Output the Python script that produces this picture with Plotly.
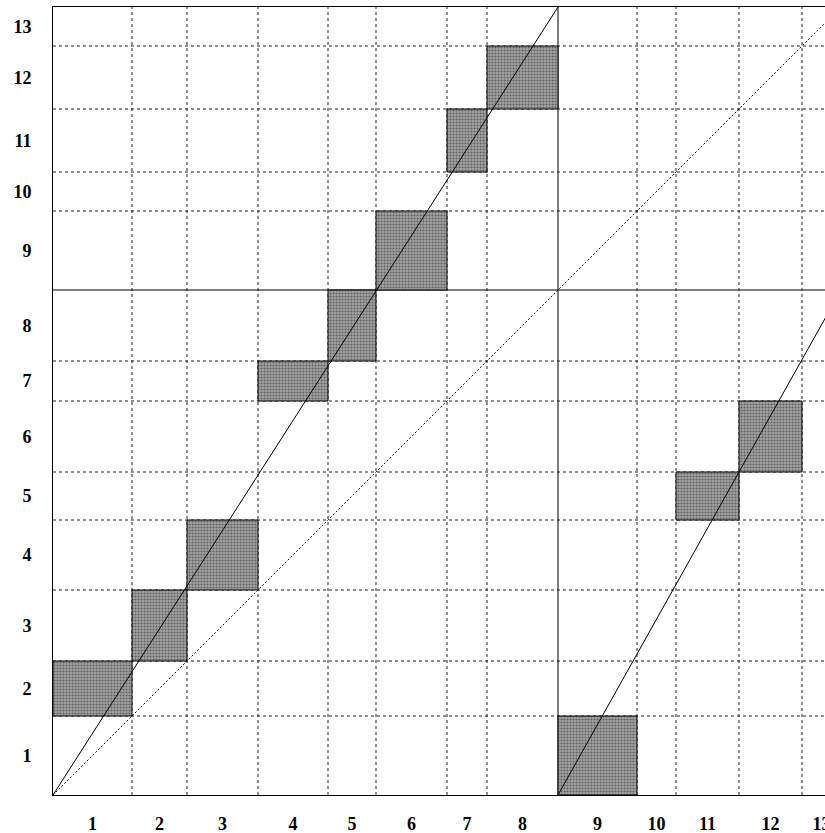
import plotly.graph_objects as go

# ---- data ----
categories = [str(i) for i in range(1, 14)]
lengths = [79, 55, 71, 70, 48, 71, 40, 71, 79, 39, 63, 63, 39]
split_after = 8  # block A = 1..8, block B = 9..13
match_x = [1, 2, 3, 4, 5, 6, 7, 8, 9, 11, 12]
match_y = [2, 3, 4, 7, 8, 9, 11, 12, 1, 5, 6]

# ---- derived positions ----
cum = [0]
for L in lengths:
    cum.append(cum[-1] + L)
centers = [(cum[i] + cum[i + 1]) / 2 for i in range(len(lengths))]
total = cum[-1]
split = cum[split_after]

fig = go.Figure()

# shaded match boxes
bx, by = [], []
for cx, cy in zip(match_x, match_y):
    x0, x1 = cum[cx - 1], cum[cx]
    y0, y1 = cum[cy - 1], cum[cy]
    bx += [x0, x1, x1, x0, x0, None]
    by += [y0, y0, y1, y1, y0, None]
fig.add_trace(go.Scatter(
    x=bx, y=by, mode="lines", fill="toself",
    fillcolor="#8c8c8c",
    fillpattern=dict(shape=".", size=3, solidity=0.4,
                     fgcolor="#606060", bgcolor="#a4a4a4", fillmode="replace"),
    line=dict(color="black", width=1), hoverinfo="skip", showlegend=False,
))

# diagonals
fig.add_trace(go.Scatter(x=[0, total], y=[0, total], mode="lines",
                         line=dict(color="black", width=1, dash="2px,2px"),
                         showlegend=False, hoverinfo="skip"))
fig.add_trace(go.Scatter(x=[0, split], y=[0, total], mode="lines",
                         line=dict(color="black", width=1),
                         showlegend=False, hoverinfo="skip"))
fig.add_trace(go.Scatter(x=[split, total], y=[0, split], mode="lines",
                         line=dict(color="black", width=1),
                         showlegend=False, hoverinfo="skip"))

# grid lines at category boundaries
shapes = []
for i, b in enumerate(cum[1:-1], start=1):
    solid = (i == split_after)
    ln = dict(color="black" if solid else "#222222", width=1,
              dash="solid" if solid else "3px,3px")
    shapes.append(dict(type="line", xref="x", yref="paper", x0=b, x1=b,
                       y0=0, y1=1, line=ln, layer="below"))
    shapes.append(dict(type="line", xref="paper", yref="y", x0=0, x1=1,
                       y0=b, y1=b, line=ln, layer="below"))

font = dict(family="Liberation Serif", size=18, color="black", weight="bold")

fig.update_layout(
    template="none",
    width=825, height=833,
    margin=dict(l=53, r=0, t=7, b=38),
    paper_bgcolor="white", plot_bgcolor="white",
    shapes=shapes,
    showlegend=False,
    xaxis=dict(range=[0, 772], tickmode="array", tickvals=centers,
               ticktext=categories, tickfont=font, showgrid=False,
               zeroline=False, showline=True, linecolor="black", linewidth=1,
               mirror=True, ticks="", ticklabelstandoff=12,
               ticklabeloverflow="allow", fixedrange=True),
    yaxis=dict(range=[0, total], tickmode="array", tickvals=centers,
               ticktext=categories, tickfont=font, showgrid=False,
               zeroline=False, showline=True, linecolor="black", linewidth=1,
               mirror=False, ticks="", ticklabelstandoff=17, fixedrange=True),
)

fig.write_html(
    "out.html",
    config={"displayModeBar": False},
    post_script="document.body.style.margin='0';document.body.style.overflow='hidden';",
)
